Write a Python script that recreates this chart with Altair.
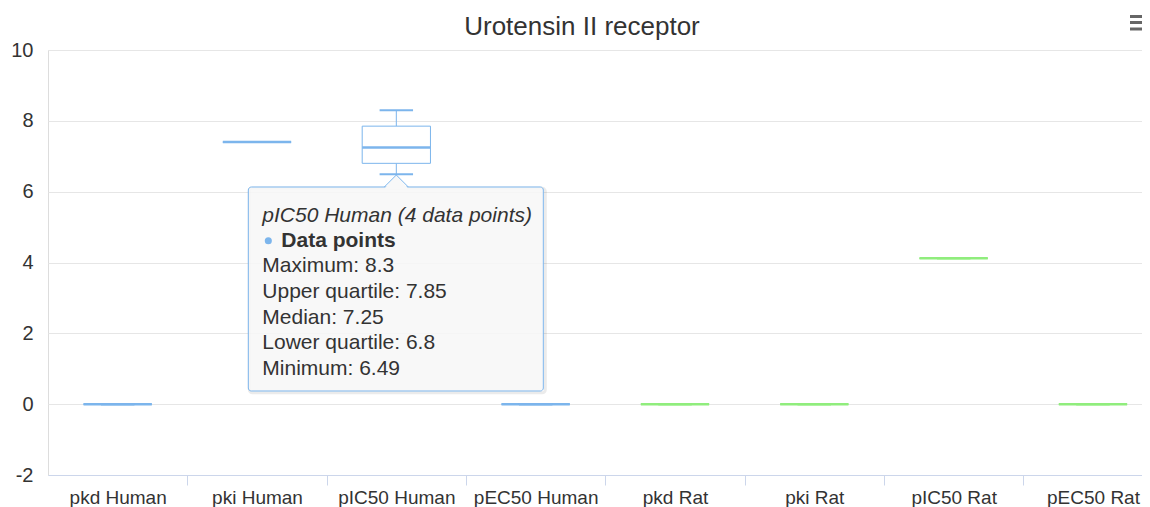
import json
import pandas as pd
import altair as alt

# ---------------- data ----------------
TITLE = "Urotensin II receptor"
categories = ["pkd Human", "pki Human", "pIC50 Human", "pEC50 Human",
              "pkd Rat", "pki Rat", "pIC50 Rat", "pEC50 Rat"]
species = ["Human", "Human", "Human", "Human", "Rat", "Rat", "Rat", "Rat"]
minimum = [0, 7.4, 6.49, 0, 0, 0, 4.12, 0]
lower_quartile = [0, 7.4, 6.8, 0, 0, 0, 4.12, 0]
median = [0, 7.4, 7.25, 0, 0, 0, 4.12, 0]
upper_quartile = [0, 7.4, 7.85, 0, 0, 0, 4.12, 0]
maximum = [0, 7.4, 8.3, 0, 0, 0, 4.12, 0]
y_ticks = [-2, 0, 2, 4, 6, 8, 10]
hover_category = "pIC50 Human"
hover_points = 4
series_name = "Data points"

species_domain = ["Human", "Rat"]
species_colors = ["#7cb5ec", "#90ed7d"]

FONT = "Liberation Sans"
TEXT = "#333333"

# ---------------- tables ----------------
n = len(categories)
df = pd.DataFrame({
    "cat": categories,
    "species": species,
    "min": minimum,
    "q1": lower_quartile,
    "med": median,
    "q3": upper_quartile,
    "max": maximum,
})
df["idx"] = range(n)
df["center"] = df["idx"] + 0.5
df["box_l"] = df["idx"] + 0.255
df["box_r"] = df["idx"] + 0.745
df["cap_l"] = df["idx"] + 0.38
df["cap_r"] = df["idx"] + 0.62

hover = df[df["cat"] == hover_category].iloc[0]
tip = pd.DataFrame({"center": [hover["center"]], "anchor": [hover["min"]]})

header_line = f"{hover_category} ({hover_points} data points)"
stat_lines = [
    f"Maximum: {hover['max']}",
    f"Upper quartile: {hover['q3']}",
    f"Median: {hover['med']}",
    f"Lower quartile: {hover['q1']}",
    f"Minimum: {hover['min']}",
]

# ---------------- scales / axes ----------------
PLOT_W = 1094
BAND_PX = 139.33
x_scale = alt.Scale(domain=[0, PLOT_W / BAND_PX], nice=False, zero=False)
y_scale = alt.Scale(domain=[-2, 10], nice=False, zero=False)

label_values = [i + 0.5 for i in range(n)]
tick_values = [i for i in range(1, n)]
cats_js = json.dumps(categories)

X_AXIS = alt.Axis(
    values=sorted(tick_values + label_values),
    labelExpr=f"datum.value % 1 != 0 ? {cats_js}[floor(datum.value)] : ''",
    tickOpacity={"condition": {"test": "datum.value % 1 == 0", "value": 1}, "value": 0},
    tickColor="#ccd6eb",
    tickSize=10,
    domainColor="#ccd6eb",
    grid=False,
    labelFontSize=19,
    labelFont=FONT,
    labelColor=TEXT,
    labelPadding=3,
    labelOverlap=False,
    labelFlush=False,
    labelBound=False,
    labelAlign="center",
    title=None,
)
Y_AXIS = alt.Axis(
    values=y_ticks,
    labelExpr="'' + datum.value",
    grid=True,
    gridColor="#e6e6e6",
    domain=False,
    ticks=False,
    labelFontSize=20,
    labelFont=FONT,
    labelColor=TEXT,
    labelPadding=15,
    title=None,
)

color = alt.Color("species:N", scale=alt.Scale(domain=species_domain, range=species_colors), legend=None)
stroke = alt.Stroke("species:N", scale=alt.Scale(domain=species_domain, range=species_colors), legend=None)


def X(field):
    return alt.X(field, type="quantitative", scale=x_scale, axis=X_AXIS, title=None)


def Y(field):
    return alt.Y(field, type="quantitative", scale=y_scale, axis=Y_AXIS, title=None)


base = alt.Chart(df)

whisk_lo = base.mark_rule(strokeWidth=1).encode(x=X("center"), y=Y("min"), y2="q1", color=color)
whisk_hi = base.mark_rule(strokeWidth=1).encode(x=X("center"), y=Y("q3"), y2="max", color=color)
cap_lo = base.mark_rule(strokeWidth=2).encode(x=X("cap_l"), x2="cap_r", y=Y("min"), color=color)
cap_hi = base.mark_rule(strokeWidth=2).encode(x=X("cap_l"), x2="cap_r", y=Y("max"), color=color)
box = base.mark_rect(fill="white", strokeWidth=1).encode(
    x=X("box_l"), x2="box_r", y=Y("q1"), y2="q3", stroke=stroke)
med = base.mark_rule(strokeWidth=2.5).encode(x=X("box_l"), x2="box_r", y=Y("med"), color=color)

# ---------------- tooltip (anchored at the hovered box) ----------------
tbase = alt.Chart(tip)
tip_enc = dict(x=X("center"), x2="center", y=Y("anchor"), y2="anchor")
shadow = tbase.mark_rect(
    xOffset=-147, x2Offset=149, yOffset=14, y2Offset=218.5, cornerRadius=3,
    fillOpacity=0, stroke="#000000", strokeOpacity=0.08, strokeWidth=3,
).encode(**tip_enc)
panel = tbase.mark_rect(
    xOffset=-148, x2Offset=147, yOffset=12.7, y2Offset=216.7, cornerRadius=3,
    fill="#f7f7f7", fillOpacity=0.88, stroke="#7cb5ec", strokeWidth=1,
).encode(**tip_enc)
pointer_fill = tbase.mark_point(
    shape="M-1,0.15L0,-1L1,0.15Z", size=576, filled=True, fill="#f8f8f8",
    opacity=1, strokeWidth=0, yOffset=12.7,
).encode(x=X("center"), y=Y("anchor"))
pointer_line = tbase.mark_point(
    shape="M-1,0L0,-1L1,0", size=576, filled=False, stroke="#7cb5ec",
    opacity=1, strokeWidth=1, yOffset=12.7,
).encode(x=X("center"), y=Y("anchor"))
bullet = tbase.mark_circle(size=50, color="#7cb5ec", opacity=1, xOffset=-128, yOffset=66.5).encode(
    x=X("center"), y=Y("anchor"))

TIP_FS = 21
text_layers = [
    tbase.mark_text(align="left", baseline="alphabetic", dx=-134, dy=47.5, fontSize=TIP_FS,
                    font=FONT, color=TEXT, fontStyle="italic").encode(
        x=X("center"), y=Y("anchor"), text=alt.value(header_line)),
    tbase.mark_text(align="left", baseline="alphabetic", dx=-115, dy=72.5, fontSize=TIP_FS,
                    font=FONT, color=TEXT, fontWeight="bold").encode(
        x=X("center"), y=Y("anchor"), text=alt.value(series_name)),
]
for i, line in enumerate(stat_lines):
    text_layers.append(
        tbase.mark_text(align="left", baseline="alphabetic", dx=-134, dy=98 + 25.7 * i, fontSize=TIP_FS,
                        font=FONT, color=TEXT).encode(
            x=X("center"), y=Y("anchor"), text=alt.value(line))
    )

# ---------------- title and menu button ----------------
title = tbase.mark_text(
    text=TITLE, fontSize=26, font=FONT, color=TEXT, align="center", baseline="alphabetic",
).encode(x=alt.value(534), y=alt.value(-15))

menu_layers = [
    tbase.mark_rule(strokeWidth=3, color="#666666").encode(
        x=alt.value(PLOT_W - 12), x2=alt.value(PLOT_W + 6), y=alt.value(yy))
    for yy in (-33.5, -27.5, -21)
]

chart = alt.layer(
    whisk_lo, whisk_hi, box, med, cap_lo, cap_hi,
    shadow, panel, pointer_fill, pointer_line, bullet, *text_layers, title, *menu_layers,
).properties(
    width=PLOT_W,
    height=425,
    autosize=alt.AutoSizeParams(type="none"),
    padding={"left": 40, "top": 42, "right": 0, "bottom": 32},
).configure_view(stroke=None).configure(background="white")

chart.save("out.html", embed_options={"renderer": "svg", "actions": False})
